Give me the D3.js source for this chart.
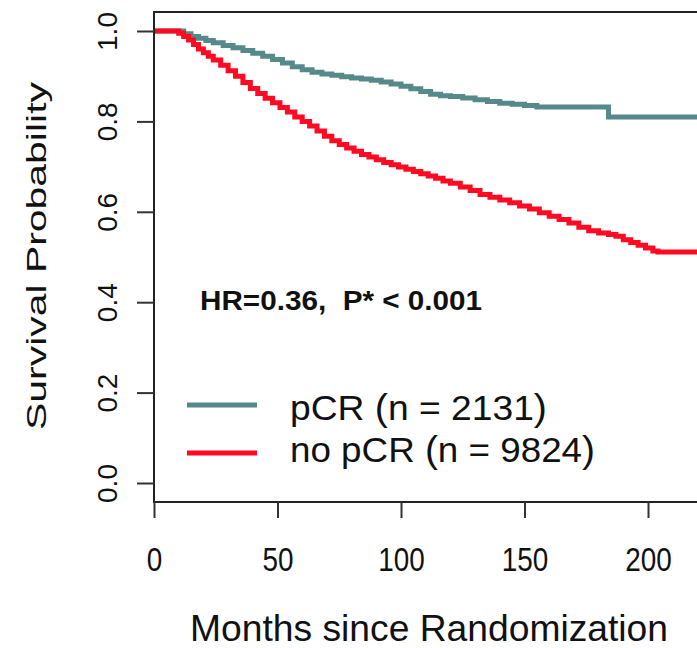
<!DOCTYPE html>
<html>
<head>
<meta charset="utf-8">
<script src="https://cdn.jsdelivr.net/npm/d3@7"></script>
<style>
  html, body { margin: 0; padding: 0; background: #fff; }
  svg { display: block; }
  text { font-family: "Liberation Sans", Arial, sans-serif; fill: #111; }
</style>
</head>
<body>
<svg id="chart" width="697" height="648"></svg>
<script>
// Kaplan–Meier estimates: months since randomization and survival probability
const pcrMonths = [0, 9, 12, 15, 18, 21, 24, 28, 32, 36, 40, 44, 48, 52, 56, 60, 64, 68, 72, 76, 80, 84, 88, 92, 96, 100, 104, 108, 112, 116, 120, 125, 130, 135, 140, 145, 150, 155, 184, 225];
const pcrSurv   = [1.0, 1.0, 0.994, 0.988, 0.984, 0.979, 0.974, 0.968, 0.963, 0.957, 0.951, 0.944, 0.937, 0.929, 0.921, 0.914, 0.909, 0.905, 0.902, 0.899, 0.896, 0.894, 0.891, 0.887, 0.883, 0.878, 0.872, 0.866, 0.860, 0.857, 0.855, 0.852, 0.848, 0.844, 0.840, 0.838, 0.835, 0.832, 0.810, 0.810];

const noPcrMonths = [0, 8, 10, 12, 14, 16, 18, 20, 22, 24, 27, 30, 33, 36, 39, 42, 45, 48, 51, 54, 57, 60, 63, 66, 69, 72, 75, 78, 81, 84, 87, 90, 93, 96, 99, 102, 105, 108, 111, 114, 117, 120, 124, 128, 132, 136, 140, 144, 148, 152, 156, 160, 164, 168, 172, 176, 180, 184, 187, 190, 193, 196, 199, 202, 204, 225];
const noPcrSurv   = [1.0, 1.0, 0.995, 0.988, 0.980, 0.970, 0.960, 0.952, 0.944, 0.936, 0.924, 0.912, 0.900, 0.886, 0.873, 0.862, 0.851, 0.841, 0.831, 0.821, 0.810, 0.800, 0.790, 0.779, 0.767, 0.757, 0.749, 0.741, 0.734, 0.727, 0.721, 0.715, 0.709, 0.704, 0.699, 0.694, 0.689, 0.684, 0.679, 0.674, 0.668, 0.663, 0.655, 0.647, 0.638, 0.632, 0.626, 0.620, 0.613, 0.606, 0.598, 0.590, 0.583, 0.575, 0.566, 0.558, 0.553, 0.550, 0.546, 0.538, 0.532, 0.526, 0.520, 0.513, 0.511, 0.511];

const xTicks = [0, 50, 100, 150, 200];
const yTicks = [0, 0.2, 0.4, 0.6, 0.8, 1.0];

const groups = [
  { name: "pCR", n: "2131", months: pcrMonths, surv: pcrSurv, color: "#568989" },
  { name: "no pCR", n: "9824", months: noPcrMonths, surv: noPcrSurv, color: "#ff0a22" }
];

const svg = d3.select("#chart");
const W = 697, H = 648;

const plot = { left: 154, top: 12, bottom: 502 };

const x = d3.scaleLinear().domain([0, 200]).range([154, 648]);
const y = d3.scaleLinear().domain([0, 1]).range([483, 31]);

// plotting region clip
svg.append("clipPath").attr("id", "clip")
  .append("rect")
  .attr("x", plot.left).attr("y", plot.top)
  .attr("width", W - plot.left + 10).attr("height", plot.bottom - plot.top);

// survival curves
const line = d3.line()
  .x(d => x(d[0]))
  .y(d => y(d[1]))
  .curve(d3.curveStepAfter);

svg.append("g").attr("clip-path", "url(#clip)")
  .selectAll("path")
  .data(groups)
  .join("path")
  .attr("d", g => line(g.months.map((m, i) => [m, g.surv[i]])))
  .attr("fill", "none")
  .attr("stroke", g => g.color)
  .attr("stroke-width", 5)
  .attr("stroke-linejoin", "miter");

// frame (top, left, bottom)
svg.append("path")
  .attr("d", `M${W + 5},${plot.top}H${plot.left}V${plot.bottom}H${W + 5}`)
  .attr("fill", "none")
  .attr("stroke", "#222")
  .attr("stroke-width", 2);

// x axis
const xAxis = svg.append("g")
  .attr("transform", `translate(0,${plot.bottom})`)
  .call(d3.axisBottom(x).tickValues(xTicks).tickSize(16).tickSizeOuter(0).tickFormat(d3.format("d")));
xAxis.select(".domain").remove();
xAxis.selectAll(".tick line").attr("stroke", "#333").attr("stroke-width", 2);
xAxis.selectAll(".tick text")
  .attr("y", 69).attr("dy", 0)
  .attr("font-size", 33)
  .attr("fill", "#111")
  .attr("text-anchor", "middle")
  .attr("textLength", d => String(d).length * 15.5)
  .attr("lengthAdjust", "spacingAndGlyphs");

// y axis
const yAxis = svg.append("g")
  .attr("transform", `translate(${plot.left},0)`)
  .call(d3.axisLeft(y).tickValues(yTicks).tickSize(17).tickSizeOuter(0).tickFormat(d3.format(".1f")));
yAxis.select(".domain").remove();
yAxis.selectAll(".tick line").attr("stroke", "#333").attr("stroke-width", 2);
yAxis.selectAll(".tick text")
  .attr("x", 0).attr("y", 0).attr("dy", 0)
  .attr("font-size", 28)
  .attr("fill", "#111")
  .attr("text-anchor", "middle")
  .attr("transform", "translate(-37,0) rotate(-90)");

// axis titles
svg.append("text")
  .attr("x", 190).attr("y", 641)
  .attr("font-size", 36)
  .attr("textLength", 478)
  .attr("lengthAdjust", "spacingAndGlyphs")
  .text("Months since Randomization");

svg.append("text")
  .attr("transform", "translate(46,430) rotate(-90)")
  .attr("font-size", 28)
  .attr("textLength", 348)
  .attr("lengthAdjust", "spacingAndGlyphs")
  .text("Survival Probability");

// hazard ratio annotation
svg.append("text")
  .attr("x", 200).attr("y", 310)
  .attr("font-size", 27)
  .attr("font-weight", "bold")
  .attr("textLength", 282)
  .attr("lengthAdjust", "spacingAndGlyphs")
  .attr("xml:space", "preserve")
  .style("white-space", "pre")
  .text("HR=0.36,  P* < 0.001");

// legend
const legendRows = [
  { lineY: 405, baseY: 420, width: 257 },
  { lineY: 453, baseY: 462, width: 305 }
];
const legend = svg.append("g");
groups.forEach((g, i) => {
  const r = legendRows[i];
  legend.append("line")
    .attr("x1", 187).attr("x2", 257)
    .attr("y1", r.lineY).attr("y2", r.lineY)
    .attr("stroke", g.color).attr("stroke-width", 5);
  const t = legend.append("text")
    .attr("x", 290).attr("y", r.baseY)
    .attr("font-size", 35)
    .attr("textLength", r.width)
    .attr("lengthAdjust", "spacingAndGlyphs");
  t.append("tspan").text(g.name + " ");
  t.append("tspan").attr("font-size", 37).attr("font-weight", 300).text("(");
  t.append("tspan").text("n = " + g.n);
  t.append("tspan").attr("font-size", 37).attr("font-weight", 300).text(")");
});
</script>
</body>
</html>
